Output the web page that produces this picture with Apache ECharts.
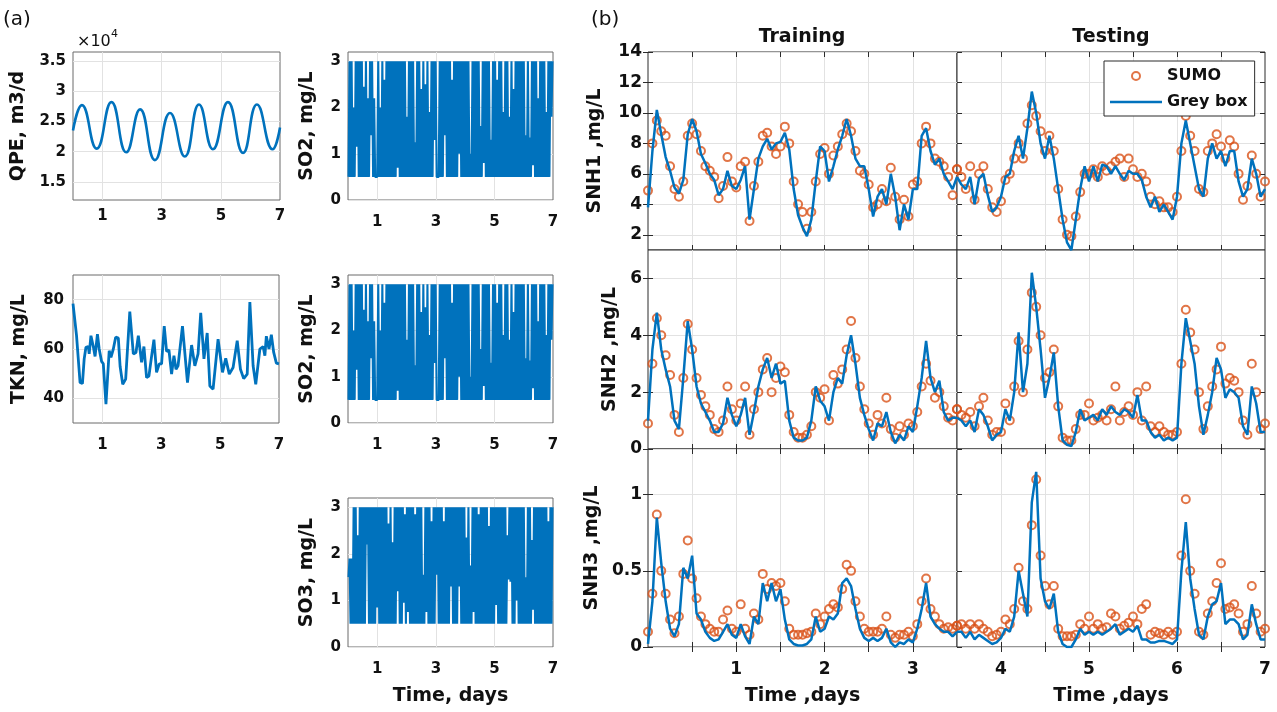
<!DOCTYPE html>
<html>
<head>
<meta charset="utf-8">
<title>Inputs and SNH profiles</title>
<script src="https://cdn.jsdelivr.net/npm/echarts@6/dist/echarts.min.js"></script>
<style>
  html, body { margin: 0; padding: 0; background: #fff; }
  #main { width: 1277px; height: 712px; }
</style>
</head>
<body>
<div id="main"></div>
<script>
// ---------- data ----------
// (a) QPE, x1e4 m3/d : peaks and troughs
var qpeDays = [0, 0.3, 0.8, 1.3, 1.8, 2.27, 2.77, 3.28, 3.78, 4.26, 4.73, 5.24, 5.75, 6.22, 6.75, 7];
var qpeFlow = [2.35, 2.77, 2.05, 2.82, 1.99, 2.7, 1.86, 2.64, 1.92, 2.78, 2.04, 2.82, 1.98, 2.78, 2.04, 2.4];

// (a) TKN, mg/L
var tknDays = [0, 0.12, 0.24, 0.32, 0.38, 0.44, 0.52, 0.55, 0.61, 0.69,
  0.75, 0.83, 0.89, 0.97, 1.03, 1.12, 1.23, 1.29, 1.37, 1.45,
  1.54, 1.6, 1.69, 1.79, 1.93, 2.05, 2.14, 2.22, 2.33, 2.41,
  2.5, 2.58, 2.67, 2.75, 2.84, 2.93, 3.01, 3.1, 3.18, 3.26,
  3.35, 3.43, 3.5, 3.57, 3.72, 3.89, 4.03, 4.14, 4.25, 4.34,
  4.45, 4.56, 4.65, 4.76, 4.93, 5.08, 5.19, 5.31, 5.44, 5.58,
  5.69, 5.8, 5.92, 6.01, 6.12, 6.21, 6.35, 6.46, 6.52, 6.57,
  6.66, 6.74, 6.82, 6.91, 7];
var tknConc = [78.4, 65.4, 46.4, 46, 56, 60.7, 61, 58, 65.4, 61,
  57, 66, 60, 55, 54, 37.6, 59.3, 56.6, 60, 64.8,
  64.4, 53, 45.7, 47.8, 75.2, 58, 58.6, 65.4, 54.6, 61,
  48.4, 49, 57, 63.8, 50.5, 54, 54, 69.3, 59, 59.6,
  49.8, 57.3, 51.8, 53.2, 69.3, 46.4, 61.6, 53.2, 58, 74.7,
  56, 66.5, 45, 43.7, 64, 50.5, 56.2, 49.8, 52.5, 63.4,
  51.8, 48, 49.8, 79, 53.2, 45.7, 60, 61, 57.3, 65.2,
  60, 65.8, 58.6, 54.3, 54];

// (a) DO set points: 100 slots of 0.07 d, low and high value reached in each slot
var soSlots = 100;
var so2Low = [0.5, 0.5, 0.5, 0.5, 1.15, 0.5, 0.5, 0.5, 0.5, 0.5,
  0.5, 1.4, 0.5, 0.5, 0.5, 0.5, 0.5, 0.5, 0.5, 0.5,
  0.5, 0.5, 0.5, 0.5, 0.7, 0.5, 0.5, 0.5, 0.5, 0.5,
  0.5, 0.5, 0.5, 0.5, 0.5, 0.5, 0.5, 0.5, 0.5, 0.5,
  0.5, 0.5, 1.3, 0.5, 0.5, 0.5, 0.5, 1.4, 0.5, 0.5,
  0.5, 0.5, 0.5, 0.5, 1.0, 0.5, 0.5, 0.5, 0.5, 0.5,
  0.5, 0.5, 0.5, 0.5, 0.5, 0.5, 0.8, 0.5, 0.5, 0.5,
  0.5, 0.5, 0.5, 0.5, 0.5, 0.5, 0.5, 0.5, 0.5, 0.5,
  0.5, 0.5, 0.5, 0.5, 0.5, 0.5, 0.5, 0.5, 0.5, 0.5,
  0.75, 0.5, 0.5, 0.5, 0.5, 0.5, 0.5, 0.5, 0.5, 1.8];
var so2High = [3, 3, 2.0, 3, 3, 3, 3, 2.45, 3, 2.2,
  3, 3, 2.2, 0.5, 3, 2.0, 3, 2.6, 3, 3,
  3, 3, 3, 3, 3, 3, 3, 3, 1.8, 3,
  3, 3, 1.25, 3, 3, 2.4, 3, 2.5, 3, 1.9,
  3, 3, 3, 0.5, 3, 3, 3, 3, 3, 3,
  2.6, 3, 3, 3, 3, 3, 3, 3, 3, 1.0,
  3, 3, 3, 3, 1.6, 3, 3, 3, 3, 1.3,
  3, 3, 2.6, 3, 3, 1.9, 3, 3, 1.8, 3,
  2.4, 3, 3, 3, 3, 3, 1.4, 3, 1.35, 3,
  3, 3, 2.2, 3, 3, 3, 1.9, 3, 3, 3];
var so3Low = [1.5, 0.5, 0.5, 0.5, 0.5, 0.5, 0.5, 0.5, 0.5, 2.2,
  0.5, 0.5, 0.5, 0.5, 0.85, 0.5, 0.5, 0.5, 0.5, 0.5,
  0.5, 0.5, 0.5, 0.5, 1.2, 0.5, 0.5, 0.95, 0.5, 0.75,
  0.5, 0.5, 0.5, 0.5, 0.5, 0.5, 0.5, 0.5, 0.75, 0.5,
  0.5, 0.5, 0.5, 1.55, 0.5, 0.5, 0.5, 0.5, 0.5, 0.5,
  1.3, 0.5, 0.5, 0.5, 1.3, 0.5, 0.5, 0.5, 0.5, 0.5,
  0.5, 0.75, 0.5, 0.5, 0.5, 0.5, 0.5, 0.5, 0.5, 0.5,
  0.5, 0.5, 0.9, 0.5, 0.5, 0.5, 0.5, 0.5, 1.45, 1.4,
  0.5, 0.5, 1.0, 0.5, 0.5, 0.5, 0.5, 0.5, 0.5, 0.5,
  0.8, 0.5, 0.5, 0.5, 0.5, 0.5, 0.5, 0.5, 0.5, 0.5];
var so3High = [1.9, 1.9, 3, 3, 2.4, 3, 3, 3, 3, 3,
  3, 3, 3, 3, 3, 3, 3, 3, 3, 2.65,
  3, 2.25, 3, 3, 3, 3, 3, 2.85, 3, 3,
  3, 3, 2.85, 3, 3, 3, 1.55, 3, 3, 3,
  2.7, 3, 3, 3, 3, 3, 2.7, 3, 3, 3,
  3, 3, 3, 3, 3, 3, 3, 2.35, 3, 1.75,
  3, 3, 3, 2.85, 3, 3, 3, 3, 2.6, 3,
  3, 3, 3, 3, 3, 3, 3, 2.4, 3, 3,
  3, 3, 3, 3, 3, 3, 1.5, 3, 3, 2.3,
  3, 3, 3, 3, 3, 3, 3, 2.7, 3, 3];

// (b) SNH profiles, one value every 0.05 d from 0 to 7 d (each row = half a day)
var snhPerDay = 20;
var snh1Sumo = [4.9, 8.0, 9.5, 8.8, 8.5, 6.5, 5.0, 4.5, 5.5, 8.5,
  9.3, 8.6, 7.5, 6.5, 6.2, 5.8, 4.4, 5.2, 7.1, 5.5,
  5.1, 6.5, 6.8, 2.9, 5.2, 6.8, 8.5, 8.7, 7.8, 7.3,
  7.8, 9.1, 8.0, 5.5, 4.0, 3.5, 2.4, 3.5, 5.5, 7.3,
  7.7, 6.0, 7.2, 7.8, 8.6, 9.3, 8.8, 7.5, 6.2, 6.0,
  5.3, 3.8, 4.0, 5.0, 4.2, 6.4, 4.5, 3.0, 4.3, 3.2,
  5.3, 5.5, 8.0, 9.1, 8.0, 7.0, 6.8, 6.5, 5.8, 4.6,
  6.3, 5.8, 5.0, 6.5, 4.3, 6.0, 6.5, 5.0, 3.8, 3.5,
  4.2, 5.6, 6.0, 7.0, 8.0, 7.0, 9.3, 10.5, 9.8, 8.8,
  7.5, 8.5, 7.5, 5.0, 3.0, 2.0, 1.9, 3.2, 4.8, 6.0,
  6.0, 6.3, 5.8, 6.5, 6.2, 6.5, 6.8, 7.0, 5.8, 7.0,
  6.3, 5.8, 6.0, 5.5, 4.5, 4.0, 4.2, 3.8, 3.8, 3.5,
  4.5, 7.5, 9.8, 8.5, 7.5, 5.0, 4.8, 7.5, 8.0, 8.6,
  7.8, 7.0, 8.2, 7.8, 6.0, 4.3, 5.2, 7.2, 6.0, 4.5,
  5.5];
var snh1Grey = [3.8, 7.5, 10.2, 8.6, 7.1, 6.2, 5.1, 4.7, 5.6, 8.6,
  9.6, 8.8, 7.3, 6.7, 6.0, 5.6, 4.6, 5.0, 6.2, 5.2,
  5.0, 5.6, 6.5, 3.0, 5.0, 7.0, 7.8, 8.3, 7.6, 8.0,
  8.1, 8.7, 7.6, 5.0, 3.3, 2.5, 1.9, 3.0, 5.5, 7.8,
  7.5, 5.5, 6.5, 7.6, 8.5, 9.6, 8.5, 7.0, 6.5, 6.5,
  5.0, 3.2, 4.5, 5.0, 4.0, 6.0, 4.5, 2.3, 4.0, 3.0,
  5.0, 5.0, 8.5, 9.0, 7.5, 6.6, 7.0, 6.0, 5.5, 5.0,
  5.8, 5.3, 5.0, 5.8, 4.0, 5.7, 6.0, 4.6, 3.5, 3.8,
  4.5, 5.8, 6.0, 7.5, 8.5, 7.0, 9.0, 11.4, 10.0, 8.0,
  7.0, 8.5, 7.0, 5.0, 3.0, 1.5, 1.0, 3.0, 5.0, 6.5,
  5.5, 6.5, 5.5, 6.6, 6.5, 6.0, 6.5, 6.0, 5.6, 6.2,
  6.0, 6.0, 5.6, 4.5, 3.8, 4.5, 3.5, 4.0, 3.5, 3.0,
  4.5, 8.0, 9.5, 8.0, 6.5, 5.0, 4.5, 7.0, 8.0, 7.0,
  7.5, 6.5, 7.5, 7.5, 5.5, 4.5, 5.0, 7.0, 6.0, 4.5,
  5.0];
var snh2Sumo = [0.9, 3.0, 4.6, 4.0, 3.3, 2.6, 1.2, 0.6, 2.5, 4.4,
  3.5, 2.5, 1.9, 1.5, 1.2, 0.7, 0.6, 1.0, 2.2, 1.4,
  1.0, 1.6, 2.2, 0.5, 1.4, 2.0, 2.8, 3.2, 2.0, 2.5,
  2.9, 2.7, 1.2, 0.6, 0.4, 0.4, 0.5, 0.8, 2.0, 1.8,
  2.1, 1.0, 2.6, 2.3, 2.8, 3.5, 4.5, 3.2, 2.2, 1.4,
  0.9, 0.5, 1.2, 0.9, 1.8, 0.7, 0.4, 0.8, 0.5, 0.9,
  0.8, 1.3, 2.2, 3.0, 2.4, 1.8, 2.0, 1.5, 1.1, 1.0,
  1.4, 1.2, 1.1, 1.3, 0.8, 1.5, 1.8, 1.0, 0.5, 0.6,
  0.6, 1.6, 1.0, 2.2, 3.8, 2.0, 3.5, 5.5, 5.0, 4.0,
  2.5, 2.7, 3.5, 1.5, 0.4, 0.3, 0.3, 0.7, 1.2, 1.2,
  1.6, 1.0, 1.1, 1.2, 1.0, 1.4, 2.2, 1.0, 1.3, 1.5,
  1.2, 2.0, 1.0, 2.2, 0.8, 0.6, 0.8, 0.6, 0.5, 0.5,
  0.6, 3.0, 4.9, 4.1, 3.5, 2.0, 0.7, 1.5, 2.2, 2.8,
  3.6, 2.3, 2.5, 2.4, 2.0, 1.0, 0.5, 3.0, 2.0, 0.7,
  0.9];
var snh2Grey = [1.0, 3.5, 4.8, 3.5, 2.8, 2.2, 1.0, 0.7, 2.5, 4.5,
  3.5, 2.2, 1.6, 1.3, 1.0, 0.6, 0.6, 0.9, 1.8, 1.2,
  0.8, 1.2, 1.8, 0.5, 1.3, 2.2, 2.8, 3.2, 2.5, 3.0,
  2.3, 2.4, 1.0, 0.4, 0.3, 0.3, 0.4, 1.0, 2.2, 1.7,
  1.5, 1.0, 2.0, 2.5, 2.3, 3.3, 4.0, 3.0, 1.8, 1.2,
  0.7, 0.3, 0.9, 0.8, 1.3, 0.6, 0.2, 0.5, 0.3, 0.8,
  0.6, 1.5, 2.5, 3.8, 2.5, 2.0, 2.4, 1.3, 1.0, 1.1,
  1.1, 1.0, 0.8, 1.0, 0.6, 1.4, 1.2, 0.8, 0.3, 0.5,
  0.6, 1.4, 1.0, 2.0, 4.1, 2.0, 3.0, 6.2, 5.0, 3.5,
  1.8, 2.5, 3.4, 1.5, 0.3, 0.15, 0.1, 0.6, 1.4, 1.0,
  1.1, 1.2, 1.0, 1.4, 1.2, 1.5, 1.3, 1.2, 1.4, 1.3,
  1.1, 1.9, 1.0, 1.0, 0.6, 0.4, 0.5, 0.3, 0.4, 0.3,
  0.4, 3.0, 4.6, 3.8, 3.0, 1.5, 0.5, 1.2, 2.0, 3.2,
  2.8, 1.8, 2.1, 2.0, 1.8, 0.8, 0.5, 2.2, 1.6, 0.6,
  0.6];
var snh3Sumo = [0.1, 0.35, 0.87, 0.5, 0.35, 0.18, 0.09, 0.2, 0.48, 0.7,
  0.45, 0.32, 0.2, 0.15, 0.12, 0.1, 0.1, 0.18, 0.24, 0.12,
  0.1, 0.28, 0.12, 0.08, 0.22, 0.18, 0.48, 0.38, 0.42, 0.4,
  0.42, 0.3, 0.12, 0.08, 0.08, 0.08, 0.09, 0.1, 0.22, 0.15,
  0.2, 0.25, 0.28, 0.26, 0.38, 0.54, 0.5, 0.3, 0.2, 0.12,
  0.1, 0.1, 0.1, 0.12, 0.2, 0.08, 0.06, 0.08, 0.08, 0.1,
  0.07, 0.15, 0.3, 0.45, 0.25, 0.2, 0.15, 0.12, 0.13, 0.12,
  0.14, 0.15, 0.12, 0.15, 0.12, 0.15, 0.12, 0.1, 0.07, 0.08,
  0.1, 0.18, 0.15, 0.25, 0.52, 0.3, 0.25, 0.8, 1.1, 0.6,
  0.4, 0.28, 0.4, 0.12, 0.07, 0.07, 0.07, 0.08, 0.15, 0.12,
  0.2, 0.12, 0.15, 0.12, 0.13, 0.22, 0.2, 0.12, 0.14, 0.16,
  0.2, 0.15, 0.25, 0.28, 0.08, 0.1, 0.09, 0.08, 0.1, 0.08,
  0.1, 0.6, 0.97, 0.5, 0.35, 0.1, 0.08, 0.22, 0.3, 0.42,
  0.55, 0.25, 0.26, 0.28, 0.22, 0.1, 0.15, 0.4, 0.22, 0.1,
  0.12];
var snh3Grey = [0.02, 0.3, 0.85, 0.55, 0.3, 0.12, 0.07, 0.15, 0.52, 0.45,
  0.6, 0.22, 0.18, 0.1, 0.06, 0.04, 0.05, 0.1, 0.15, 0.08,
  0.06, 0.15, 0.07, 0.02, 0.2, 0.15, 0.42, 0.3, 0.42, 0.3,
  0.38, 0.18, 0.05, 0.02, 0.01, 0.01, 0.02, 0.05, 0.2, 0.1,
  0.12, 0.2, 0.18, 0.22, 0.42, 0.45, 0.4, 0.25, 0.12, 0.06,
  0.04, 0.06, 0.04, 0.06, 0.12, 0.03, 0.0, 0.03, 0.02, 0.05,
  0.03, 0.12, 0.25, 0.42, 0.2, 0.15, 0.12, 0.1, 0.1, 0.07,
  0.1, 0.1, 0.06, 0.1, 0.05, 0.08, 0.06, 0.04, 0.02, 0.03,
  0.06, 0.12, 0.1, 0.2, 0.5, 0.35, 0.2, 0.95, 1.15, 0.45,
  0.3, 0.25, 0.35, 0.1, 0.02, 0.0, 0.0, 0.05, 0.12, 0.08,
  0.1, 0.08, 0.1, 0.08, 0.1, 0.12, 0.15, 0.08, 0.1, 0.12,
  0.1, 0.14, 0.05, 0.05, 0.03, 0.03, 0.04, 0.04, 0.03, 0.02,
  0.05, 0.5, 0.82, 0.45, 0.25, 0.08, 0.05, 0.2, 0.28, 0.3,
  0.42, 0.15, 0.18, 0.18, 0.15, 0.05, 0.08, 0.28, 0.15, 0.05,
  0.05];

// tick values
var leftDayTicks = [1, 3, 5];
var leftDayLabels = [1, 3, 5, 7];
var qpeTicks = [1.5, 2, 2.5, 3, 3.5];
var tknTicks = [40, 60, 80];
var soTicks = [0, 1, 2, 3];
var trainTicks = [0.5, 1, 1.5, 2, 2.5, 3];
var trainLabels = [1, 2, 3];
var testTicks = [4, 4.5, 5, 5.5, 6, 6.5];
var testLabels = [4, 5, 6, 7];
var snh1Ticks = [2, 4, 6, 8, 10, 12, 14];
var snh2Ticks = [0, 2, 4, 6];
var snh3Ticks = [0, 0.5, 1];

// ---------- chart ----------
var BLUE = '#0072BD', ORANGE = '#D95319', GRIDLINE = '#e2e2e2';
var FONT = 'DejaVu Sans';
var grids = [], xAxes = [], yAxes = [], series = [];

function zip(xs, ys) {
    var out = [];
    for (var i = 0; i < xs.length; i++) out.push([xs[i], ys[i]]);
    return out;
}
// each slot: low value then high value
function slotLine(lo, hi) {
    var out = [], w = 7 / soSlots;
    for (var i = 0; i < lo.length; i++) {
        out.push([(i + 0.25) * w, lo[i]]);
        out.push([(i + 0.75) * w, hi[i]]);
    }
    return out;
}
function snhPart(values, from, to) {
    var out = [];
    for (var i = from; i <= to; i++) out.push([i / snhPerDay, values[i]]);
    return out;
}
function labelStyle(size, margin) {
    return { fontSize: size, fontWeight: 'bold', fontFamily: FONT, color: '#111', margin: margin };
}
function nameStyle() {
    return { fontSize: 19, fontWeight: 'bold', fontFamily: FONT, color: '#111' };
}

// one axes box: bottom/left axes carry grid lines and labels, top/right only ticks
function panel(p) {
    var gi = grids.length;
    grids.push({ show: true, left: p.box[0], top: p.box[1], width: p.box[2], height: p.box[3],
        borderColor: p.frame, borderWidth: 1, backgroundColor: '#fff' });
    var tick = function (vals) {
        return { show: !!p.ticks, inside: true, length: 5, customValues: vals,
            lineStyle: { color: p.frame, width: 1 } };
    };
    var xi = xAxes.length, yi = yAxes.length;
    xAxes.push({ type: 'value', gridIndex: gi, position: 'bottom', min: p.x[0], max: p.x[1],
        axisLine: { show: false }, axisTick: tick(p.xTicks),
        axisLabel: Object.assign({ show: !!p.xLabels, customValues: p.xLabels || [0] }, labelStyle(p.fs, p.xMargin)),
        splitLine: { show: true, lineStyle: { color: GRIDLINE, width: 1 } },
        name: p.xName || '', nameLocation: 'middle', nameGap: 40, nameTextStyle: nameStyle() });
    yAxes.push({ type: 'value', gridIndex: gi, position: 'left', min: p.y[0], max: p.y[1],
        axisLine: { show: false }, axisTick: tick(p.yTicks),
        axisLabel: Object.assign({ show: !!p.yLabels, customValues: p.yLabels || [0] }, labelStyle(p.fs, p.yMargin)),
        splitLine: { show: true, lineStyle: { color: GRIDLINE, width: 1 } },
        name: p.yName || '', nameLocation: 'middle', nameGap: p.yGap || 40, nameTextStyle: nameStyle() });
    if (p.ticks) {
        xAxes.push({ type: 'value', gridIndex: gi, position: 'top', min: p.x[0], max: p.x[1],
            axisLine: { show: false }, axisTick: tick(p.xTicks), axisLabel: { show: false }, splitLine: { show: false } });
        yAxes.push({ type: 'value', gridIndex: gi, position: 'right', min: p.y[0], max: p.y[1],
            axisLine: { show: false }, axisTick: tick(p.yTicks), axisLabel: { show: false }, splitLine: { show: false } });
    }
    return { x: xi, y: yi };
}

var LEFTFRAME = '#6b6b6b', RIGHTFRAME = '#2b2b2b';

// (a) inputs
var aQpe = panel({ box: [73, 52, 207, 148], frame: LEFTFRAME, fs: 15, x: [0, 7], y: [1.2, 3.65],
    xTicks: leftDayTicks, xLabels: leftDayLabels, xMargin: 9, yTicks: qpeTicks, yLabels: qpeTicks, yMargin: 7,
    yName: 'QPE, m3/d', yGap: 45 });
var aTkn = panel({ box: [73, 275, 206, 148], frame: LEFTFRAME, fs: 15, x: [0, 7], y: [30, 90],
    xTicks: leftDayTicks, xLabels: leftDayLabels, xMargin: 15, yTicks: tknTicks, yLabels: tknTicks, yMargin: 9,
    yName: 'TKN, mg/L', yGap: 44 });
var aSo2a = panel({ box: [348, 52, 205, 148], frame: LEFTFRAME, fs: 15, x: [0, 7], y: [0, 3.2],
    xTicks: leftDayTicks, xLabels: leftDayLabels, xMargin: 15, yTicks: soTicks, yLabels: soTicks, yMargin: 7,
    yName: 'SO2, mg/L', yGap: 31 });
var aSo2b = panel({ box: [348, 275, 205, 148], frame: LEFTFRAME, fs: 15, x: [0, 7], y: [0, 3.2],
    xTicks: leftDayTicks, xLabels: leftDayLabels, xMargin: 15, yTicks: soTicks, yLabels: soTicks, yMargin: 7,
    yName: 'SO2, mg/L', yGap: 31 });
var aSo3 = panel({ box: [348, 498, 205, 149], frame: LEFTFRAME, fs: 15, x: [0, 7], y: [0, 3.2],
    xTicks: leftDayTicks, xLabels: leftDayLabels, xMargin: 15, yTicks: soTicks, yLabels: soTicks, yMargin: 7,
    yName: 'SO3, mg/L', yGap: 31, xName: 'Time, days' });

function lineSeries(ax, data, width, smooth) {
    series.push({ type: 'line', xAxisIndex: ax.x, yAxisIndex: ax.y, data: data, symbol: 'none',
        smooth: smooth || false, lineStyle: { color: BLUE, width: width }, itemStyle: { color: BLUE } });
}
lineSeries(aQpe, zip(qpeDays, qpeFlow), 2.6, 0.5);
lineSeries(aTkn, zip(tknDays, tknConc), 2.8);
lineSeries(aSo2a, slotLine(so2Low, so2High), 2.1);
lineSeries(aSo2b, slotLine(so2Low, so2High), 2.1);
lineSeries(aSo3, slotLine(so3Low, so3High), 2.1);

// (b) training / testing
var rows = [
    { top: 52, h: 198, y: [1, 14], ticks: snh1Ticks, name: 'SNH1 ,mg/L', gap: 43, sumo: snh1Sumo, grey: snh1Grey },
    { top: 250, h: 199, y: [0, 7], ticks: snh2Ticks, name: 'SNH2 ,mg/L', gap: 28, sumo: snh2Sumo, grey: snh2Grey },
    { top: 449, h: 198, y: [0, 1.3], ticks: snh3Ticks, name: 'SNH3 ,mg/L', gap: 46, sumo: snh3Sumo, grey: snh3Grey }
];
var half = 3.5 * snhPerDay, last = 7 * snhPerDay;
rows.forEach(function (r, k) {
    var bottom = k === rows.length - 1;
    var tr = panel({ box: [648, r.top, 309, r.h], frame: RIGHTFRAME, fs: 17, ticks: true, x: [0, 3.5], y: r.y,
        xTicks: trainTicks, xLabels: bottom ? trainLabels : null, xMargin: 14,
        yTicks: r.ticks, yLabels: r.ticks, yMargin: 6, yName: r.name, yGap: r.gap,
        xName: bottom ? 'Time ,days' : '' });
    var te = panel({ box: [957, r.top, 308, r.h], frame: RIGHTFRAME, fs: 17, ticks: true, x: [3.5, 7], y: r.y,
        xTicks: testTicks, xLabels: bottom ? testLabels : null, xMargin: 14,
        yTicks: r.ticks, yLabels: null, xName: bottom ? 'Time ,days' : '' });
    [[tr, 0, half], [te, half, last]].forEach(function (s) {
        series.push({ name: 'SUMO', type: 'scatter', xAxisIndex: s[0].x, yAxisIndex: s[0].y,
            data: snhPart(r.sumo, s[1], s[2]), symbol: 'circle', symbolSize: 8,
            itemStyle: { color: 'rgba(0,0,0,0)', borderColor: ORANGE, borderWidth: 2 }, z: 2 });
        series.push({ name: 'Grey box', type: 'line', xAxisIndex: s[0].x, yAxisIndex: s[0].y,
            data: snhPart(r.grey, s[1], s[2]), symbol: 'none',
            lineStyle: { color: BLUE, width: 2.5 }, itemStyle: { color: BLUE }, z: 3 });
    });
});

function text(x, y, s, size, weight, align, vAlign) {
    return { type: 'text', x: x, y: y, z: 10, style: { text: s, fontSize: size, fontWeight: weight,
        fontFamily: FONT, fill: '#111', align: align || 'left', verticalAlign: vAlign || 'middle' } };
}

var option = {
    animation: false,
    backgroundColor: '#fff',
    grid: grids,
    xAxis: xAxes,
    yAxis: yAxes,
    series: series,
    legend: {
        data: [{ name: 'SUMO', icon: 'circle' }, { name: 'Grey box', icon: 'path://M0 0H52V2.6H0Z' }],
        orient: 'vertical', left: 1104, top: 61,
        itemWidth: 52, itemHeight: 8, itemGap: 10,
        padding: [7, 7, 6, 6],
        borderColor: '#2b2b2b', borderWidth: 1, backgroundColor: '#fff',
        selectedMode: false,
        textStyle: { fontSize: 16, fontWeight: 'bold', fontFamily: FONT, color: '#111' }
    },
    graphic: [
        text(3, 20, '(a)', 20, 'normal'),
        text(591, 20, '(b)', 20, 'normal'),
        text(77, 42, '\u00d710', 16, 'normal'),
        text(111, 34, '4', 11, 'normal'),
        text(802, 37, 'Training', 19, 'bold', 'center'),
        text(1111, 37, 'Testing', 19, 'bold', 'center')
    ]
};

var chart = echarts.init(document.getElementById('main'));
chart.setOption(option);
window.addEventListener('resize', function () { chart.resize(); });
</script>
</body>
</html>
